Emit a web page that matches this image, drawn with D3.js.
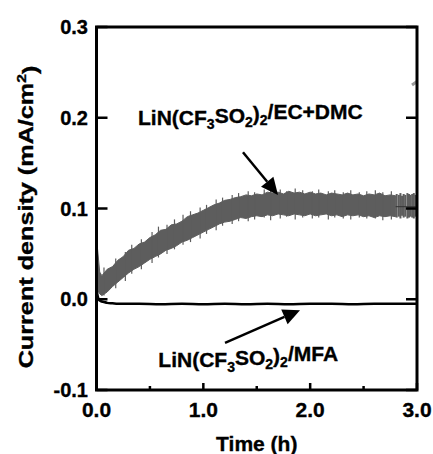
<!DOCTYPE html>
<html><head><meta charset="utf-8">
<script src="https://cdn.jsdelivr.net/npm/d3@7"></script>
<style>body{margin:0;background:#fff}svg{display:block}text{font-family:Arial,"Liberation Sans",sans-serif;font-weight:bold;fill:#000;stroke:#000;stroke-width:0.35px}</style>
</head><body>
<script>
// ---- data ----
const bandTimes = [0,0.01,0.03,0.05,0.10,0.15,0.20,0.25,0.30,0.35,0.40,0.45,0.50,0.55,0.60,0.65,0.70,0.75,0.80,0.85,0.90,0.95,1.00,1.05,1.10,1.15,1.20,1.25,1.30,1.35,1.40,1.45,1.50,1.55,1.60,1.65,1.70,1.75,1.80,1.85,1.90,1.95,2.00,2.05,2.10,2.15,2.20,2.25,2.30,2.35,2.40,2.45,2.50,2.55,2.60,2.65,2.70,2.75,2.80];
const bandUpper = [0.030,0.055,0.030,0.026,0.033,0.036,0.043,0.047,0.054,0.056,0.061,0.063,0.068,0.071,0.076,0.077,0.082,0.083,0.086,0.091,0.093,0.095,0.098,0.101,0.104,0.106,0.109,0.110,0.112,0.113,0.115,0.114,0.116,0.115,0.118,0.117,0.118,0.116,0.119,0.117,0.118,0.116,0.118,0.116,0.117,0.115,0.117,0.116,0.115,0.117,0.115,0.116,0.114,0.116,0.115,0.117,0.114,0.115,0.114];
const bandLower = [0.002,0.010,0.006,0.004,0.008,0.014,0.019,0.024,0.029,0.033,0.036,0.040,0.044,0.047,0.050,0.054,0.056,0.059,0.063,0.065,0.068,0.071,0.074,0.077,0.080,0.083,0.085,0.086,0.088,0.090,0.089,0.091,0.092,0.091,0.093,0.092,0.094,0.093,0.092,0.094,0.093,0.092,0.094,0.092,0.093,0.094,0.092,0.093,0.091,0.093,0.092,0.093,0.091,0.092,0.090,0.092,0.091,0.092,0.091];
// isolated noise spikes sticking out of the band: time, low, high
const spikeT  = [0.07,0.18,0.27,0.33,0.42,0.52,0.58,0.66,0.73,0.81,0.88,0.97,1.03,1.12,1.18,1.27,1.33,1.42,1.48,1.57,1.63,1.72,1.78,1.86,1.93,2.02,2.08,2.17,2.23,2.31,2.38,2.46,2.53,2.61,2.68,2.76];
const spikeLo = [0.004,0.012,0.020,0.028,0.033,0.040,0.046,0.050,0.055,0.060,0.063,0.067,0.072,0.076,0.081,0.083,0.086,0.086,0.088,0.090,0.087,0.089,0.091,0.088,0.090,0.089,0.090,0.088,0.090,0.089,0.088,0.090,0.089,0.089,0.087,0.088];
const spikeHi = [0.035,0.045,0.052,0.060,0.066,0.074,0.080,0.082,0.088,0.093,0.097,0.101,0.104,0.110,0.112,0.115,0.117,0.119,0.118,0.121,0.120,0.121,0.119,0.122,0.120,0.119,0.121,0.119,0.120,0.118,0.120,0.118,0.119,0.120,0.118,0.119];
// sparse tail sweeps: time, low, high
const tailTimes = [2.81,2.83,2.845,2.86,2.875,2.89,2.91,2.925,2.94,2.955,2.97,2.985,3.0];
const tailLow   = [0.090,0.091,0.089,0.092,0.090,0.091,0.089,0.090,0.091,0.090,0.089,0.091,0.090];
const tailHigh  = [0.116,0.115,0.117,0.114,0.116,0.115,0.117,0.116,0.115,0.116,0.117,0.115,0.116];
// outlier marks of the EC+DMC trace: time, low, high
const outT = [0.0, 0.0, 3.0];
const outLo = [0.190, 0.126, 0.236];
const outHi = [0.211, 0.131, 0.240];
// MFA trace
const mfaTimes = [0,0.01,0.02,0.04,0.07,0.10,0.15,0.20,0.40,0.60,0.80,1.00,1.20,1.40,1.60,1.80,2.00,2.20,2.40,2.60,2.80,3.00];
const mfaValues = [0.011,0.004,0.000,-0.002,-0.003,-0.004,-0.0045,-0.005,-0.005,-0.0055,-0.005,-0.0055,-0.005,-0.0055,-0.005,-0.0055,-0.005,-0.005,-0.0055,-0.005,-0.005,-0.005];
const yTicks = [-0.1,0.0,0.1,0.2,0.3];
const xTicks = [0,1,2,3];
const xMinor = [0.5,1.5,2.5];

// ---- layout ----
const W=433,H=454;
const svg=d3.select("body").append("svg").attr("width",W).attr("height",H);
const x=d3.scaleLinear().domain([0,3]).range([96.5,417]);
const y=d3.scaleLinear().domain([-0.1,0.3]).range([390,27]);
const gray="#5d5d5d";

// band
const band=bandTimes.map((t,i)=>({t,u:bandUpper[i],l:bandLower[i]}));
svg.append("path").datum(band)
  .attr("d",d3.area().x(d=>x(d.t)).y0(d=>y(d.l)).y1(d=>y(d.u)))
  .attr("fill",gray).attr("stroke",gray).attr("stroke-width",1);
svg.selectAll(".spk").data(spikeT).enter().append("line")
  .attr("x1",t=>x(t)).attr("x2",t=>x(t))
  .attr("y1",(t,i)=>y(spikeLo[i])).attr("y2",(t,i)=>y(spikeHi[i]))
  .attr("stroke",gray).attr("stroke-width",1.2);
// tail sweeps
svg.selectAll(".tail").data(tailTimes).enter().append("line")
  .attr("x1",t=>x(t)).attr("x2",t=>x(t))
  .attr("y1",(t,i)=>y(tailLow[i])).attr("y2",(t,i)=>y(tailHigh[i]))
  .attr("stroke",gray).attr("stroke-width",2);
svg.append("line").attr("x1",x(2.8)).attr("x2",x(3.0)).attr("y1",y(0.102)).attr("y2",y(0.102))
  .attr("stroke","#333").attr("stroke-width",1);
// outliers
svg.selectAll(".out").data(outT).enter().append("line")
  .attr("x1",(t,i)=>x(t)+(t===3?-5:0)).attr("x2",(t,i)=>x(t))
  .attr("y1",(t,i)=>y(outLo[i])).attr("y2",(t,i)=>y(outHi[i]))
  .attr("stroke","#999").attr("stroke-width",3);

// MFA
svg.append("path").datum(mfaTimes.map((t,i)=>[t,mfaValues[i]]))
  .attr("d",d3.line().x(d=>x(d[0])).y(d=>y(d[1])).curve(d3.curveMonotoneX))
  .attr("fill","none").attr("stroke","#000").attr("stroke-width",2.5);

// frame
svg.append("rect").attr("x",x(0)).attr("y",y(0.3)).attr("width",x(3)-x(0)).attr("height",y(-0.1)-y(0.3))
  .attr("fill","none").attr("stroke","#000").attr("stroke-width",3);
// y ticks
yTicks.forEach(v=>{
  svg.append("line").attr("x1",x(0)).attr("x2",x(0)+11).attr("y1",y(v)).attr("y2",y(v)).attr("stroke","#000").attr("stroke-width",2.5);
  svg.append("line").attr("x1",x(3)).attr("x2",x(3)-11).attr("y1",y(v)).attr("y2",y(v)).attr("stroke","#000").attr("stroke-width",2.5);
  svg.append("text").attr("x",88).attr("y",y(v)).attr("dy","0.36em").attr("text-anchor","end")
    .style("font-size","20px").text(v.toFixed(1));
});
xTicks.forEach(v=>{
  svg.append("line").attr("x1",x(v)).attr("x2",x(v)).attr("y1",y(-0.1)).attr("y2",y(-0.1)-7).attr("stroke","#000").attr("stroke-width",2.5);
  svg.append("text").attr("x",x(v)).attr("y",417).attr("text-anchor","middle")
    .style("font-size","21px").text(v.toFixed(1));
});
xMinor.forEach(v=>{
  svg.append("line").attr("x1",x(v)).attr("x2",x(v)).attr("y1",y(-0.1)).attr("y2",y(-0.1)-4).attr("stroke","#000").attr("stroke-width",2.5);
});

// axis titles
svg.append("text").attr("x",x(1.5)).attr("y",451).attr("text-anchor","middle").style("font-size","21px").text("Time (h)");
const yt=svg.append("text").attr("transform","translate(33,217) rotate(-90) scale(1.2,1)").attr("text-anchor","middle").style("font-size","21px");
yt.append("tspan").text("Current density (mA/cm");
yt.append("tspan").attr("dy","-0.55em").style("font-size","13px").text("2");
yt.append("tspan").attr("dy","0.55em").text(")");

// labels
function chem(tx,ty,suffix){
  const t=svg.append("text").attr("x",tx).attr("y",ty).attr("text-anchor","middle").style("font-size","21px");
  t.append("tspan").text("LiN(CF");
  t.append("tspan").attr("dy","0.3em").style("font-size","14px").text("3");
  t.append("tspan").attr("dy","-0.3em").text("SO");
  t.append("tspan").attr("dy","0.3em").style("font-size","14px").text("2");
  t.append("tspan").attr("dy","-0.3em").text(")");
  t.append("tspan").attr("dy","0.3em").style("font-size","14px").text("2");
  t.append("tspan").attr("dy","-0.3em").text(suffix);
}
chem(x(1.44),y(0.192),"/EC+DMC");
chem(x(1.42),y(-0.075),"/MFA");

// arrows
function arrow(t0,v0,t1,v1){
  const x0=x(t0),y0=y(v0),x1=x(t1),y1=y(v1);
  const a=Math.atan2(y1-y0,x1-x0),L=17,Wd=8;
  const bx=x1-L*Math.cos(a),by=y1-L*Math.sin(a);
  svg.append("line").attr("x1",x0).attr("y1",y0).attr("x2",bx).attr("y2",by).attr("stroke","#000").attr("stroke-width",2.5);
  svg.append("path").attr("d",`M${x1},${y1}L${bx+Wd*Math.sin(a)},${by-Wd*Math.cos(a)}L${bx-Wd*Math.sin(a)},${by+Wd*Math.cos(a)}Z`).attr("fill","#000");
}
arrow(1.371,0.162,1.699,0.115);
arrow(1.203,-0.048,1.905,-0.012);
</script>
</body></html>
